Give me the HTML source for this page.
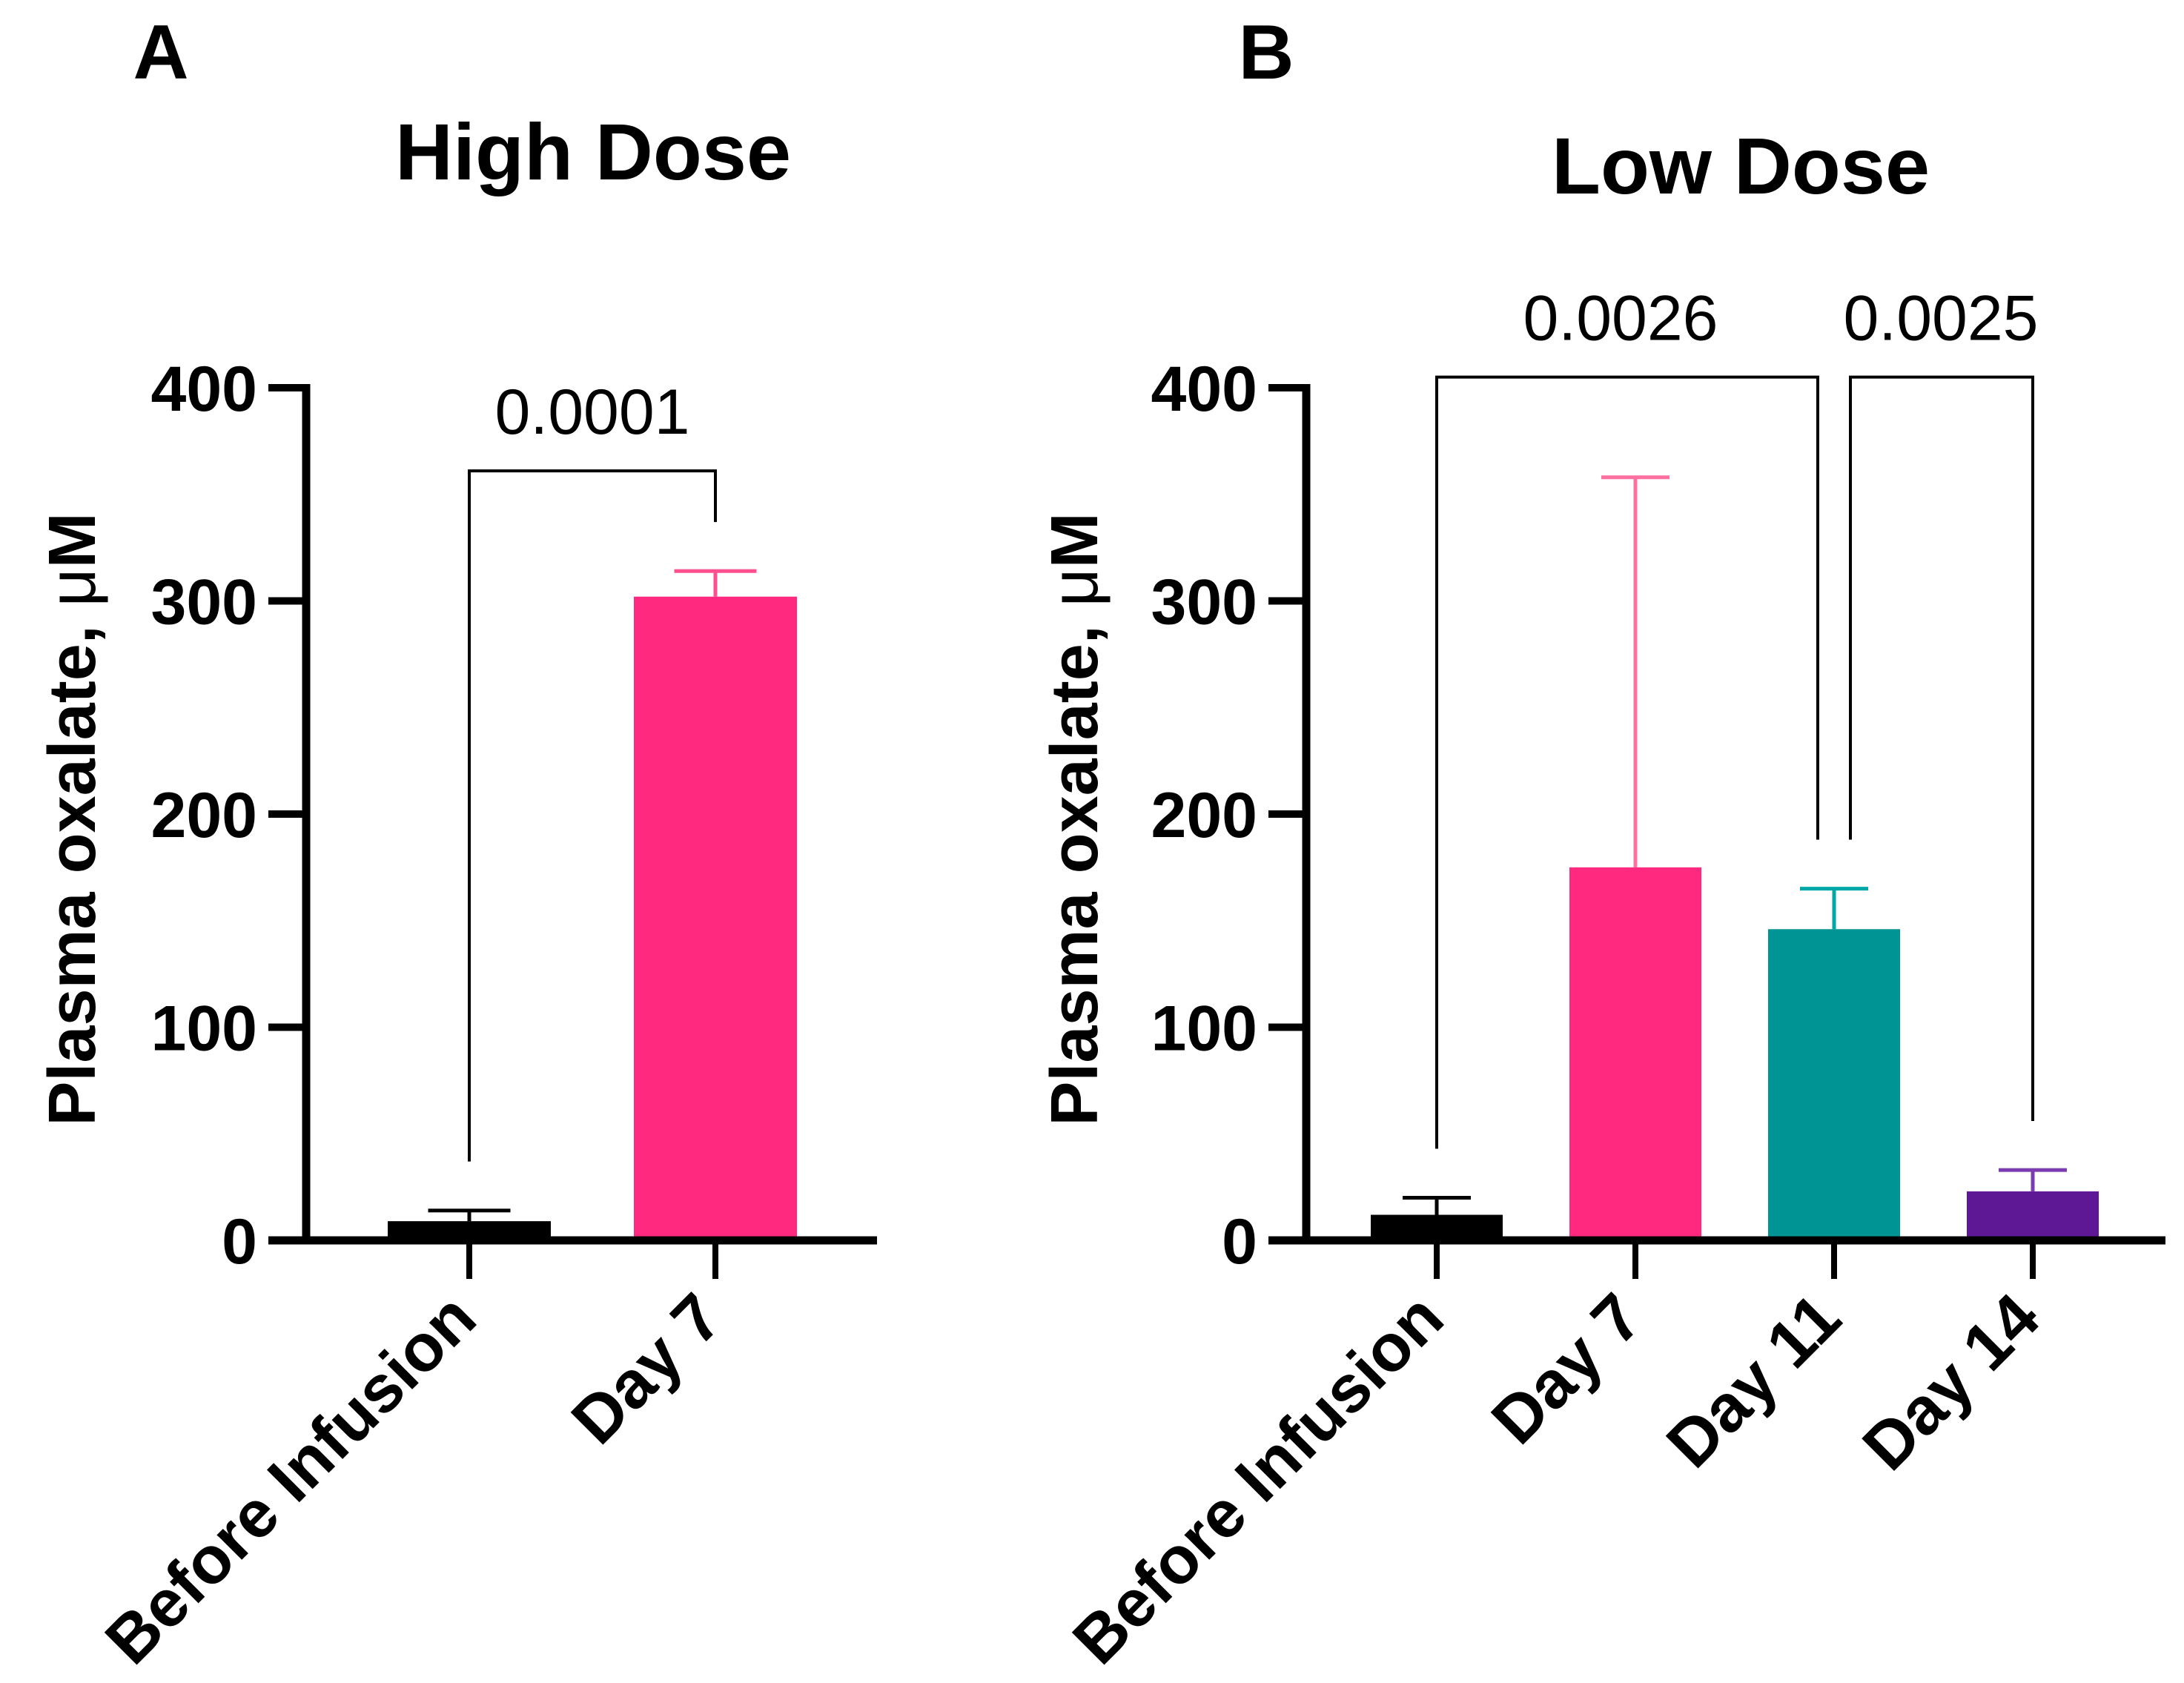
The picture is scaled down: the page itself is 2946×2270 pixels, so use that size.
<!DOCTYPE html>
<html><head><meta charset="utf-8">
<style>
html,body{margin:0;padding:0;background:#fff;}
svg{display:block;font-family:"Liberation Sans",Arial,sans-serif;}
</style></head>
<body>
<svg id="chart" width="2946" height="2270" viewBox="0 0 2946 2270" xmlns="http://www.w3.org/2000/svg">
<text x="217" y="106" font-size="104" font-weight="bold" text-anchor="middle">A</text>
<text x="1708" y="106" font-size="104" font-weight="bold" text-anchor="middle">B</text>
<text x="800" y="242" font-size="108" font-weight="bold" text-anchor="middle">High Dose</text>
<text x="2348" y="261" font-size="108" font-weight="bold" text-anchor="middle">Low Dose</text>
<text transform="translate(128,1105) rotate(-90)" font-size="90" font-weight="bold" text-anchor="middle">Plasma oxalate, <tspan font-weight="normal">μ</tspan>M</text>
<text transform="translate(1480,1105) rotate(-90)" font-size="90" font-weight="bold" text-anchor="middle">Plasma oxalate, <tspan font-weight="normal">μ</tspan>M</text>
</svg>
<script>
const ticks = [0, 100, 200, 300, 400];
const catsA = ["Before Infusion", "Day 7"];
const meansA = [9, 302];
const errA = [14, 314];
const catsB = ["Before Infusion", "Day 7", "Day 11", "Day 14"];
const meansB = [12, 175, 146, 23];
const errB = [20, 358, 165, 33];
const pA = ["0.0001"];
const pB = ["0.0026", "0.0025"];

const svg = document.getElementById('chart');
const NS = 'http://www.w3.org/2000/svg';
function mk(tag, attrs, name) {
  const e = document.createElementNS(NS, tag);
  for (const k in attrs) e.setAttribute(k, attrs[k]);
  
  
  svg.appendChild(e);
  return e;
}
function panel(cfg) {
  const y = v => cfg.y0 - (v / 400) * (cfg.y0 - cfg.y400);
  const x = i => cfg.xFirst + i * cfg.step;
  cfg.means.forEach((m, i) => {
    const cx = x(i);
    mk('line', {x1: cx, x2: cx, y1: y(m), y2: y(cfg.err[i]), stroke: cfg.errColors[i], 'stroke-width': 5}, 'error-bar-' + (i + 1));
    mk('line', {x1: cx - cfg.cap / 2, x2: cx + cfg.cap / 2, y1: y(cfg.err[i]), y2: y(cfg.err[i]), stroke: cfg.errColors[i], 'stroke-width': 5}, 'error-cap-' + (i + 1));
    mk('rect', {x: cx - cfg.bw / 2, y: y(m), width: cfg.bw, height: y(0) - y(m), fill: cfg.colors[i]}, 'bar-' + (i + 1));
  });
  mk('line', {x1: cfg.ax, x2: cfg.ax, y1: y(400) - 5, y2: y(0) + 5, stroke: '#000', 'stroke-width': 11}, 'y-axis-line');
  mk('line', {x1: cfg.ax - 51, x2: cfg.xEnd, y1: y(0), y2: y(0), stroke: '#000', 'stroke-width': 11}, 'x-axis-line');
  ticks.forEach(t => {
    mk('line', {x1: cfg.ax - 51, x2: cfg.ax, y1: y(t), y2: y(t), stroke: '#000', 'stroke-width': 10}, 'y-tick');
    const tx = mk('text', {x: cfg.ax - 66, y: y(t) + 31, 'font-size': 86, 'font-weight': 'bold', 'text-anchor': 'end'}, 'y-tick-label');
    tx.textContent = t;
  });
  cfg.cats.forEach((c, i) => {
    const cx = x(i);
    mk('line', {x1: cx, x2: cx, y1: y(0), y2: y(0) + 52, stroke: '#000', 'stroke-width': 8}, 'x-tick');
    const tx = mk('text', {transform: 'translate(' + (cx + 14) + ',' + (y(0) + 110) + ') rotate(-45)', 'font-size': 90, 'font-weight': 'bold', 'text-anchor': 'end'}, 'x-tick-label');
    tx.textContent = c;
  });
  cfg.brackets.forEach((b, k) => {
    const xl = x(b.i) + (b.dl || 0), xr = x(b.j) + (b.dr || 0);
    mk('polyline', {points: xl + ',' + y(b.lo1) + ' ' + xl + ',' + y(b.top) + ' ' + xr + ',' + y(b.top) + ' ' + xr + ',' + y(b.lo2), fill: 'none', stroke: '#000', 'stroke-width': 4}, 'significance-bracket');
    const tx = mk('text', {x: (x(b.i) + x(b.j)) / 2 + (b.lx || 0), y: y(b.top) - 50, 'font-size': 86, 'text-anchor': 'middle'}, 'p-value-label');
    tx.textContent = cfg.pvals[k];
  });
}
panel({cats: catsA, means: meansA, err: errA, pvals: pA, y0: 1673, y400: 523, ax: 413, xEnd: 1183,
  xFirst: 633, step: 332, bw: 220, cap: 111,
  colors: ['#000000', '#FF2A7F'], errColors: ['#000000', '#FF4F8E'],
  brackets: [{i: 0, j: 1, top: 361, lo1: 37, lo2: 337}]});
panel({cats: catsB, means: meansB, err: errB, pvals: pB, y0: 1673, y400: 523, ax: 1762, xEnd: 2921,
  xFirst: 1938, step: 268, bw: 178, cap: 92,
  colors: ['#000000', '#FF2A7F', '#009494', '#5E1896'], errColors: ['#000000', '#FF6FA0', '#00A7A7', '#7A3CB0'],
  brackets: [{i: 0, j: 2, top: 405, lo1: 43, lo2: 188, dr: -22, lx: -20}, {i: 2, j: 3, top: 405, lo1: 188, lo2: 56, dl: 22, lx: 10}]});
</script>
</body></html>
